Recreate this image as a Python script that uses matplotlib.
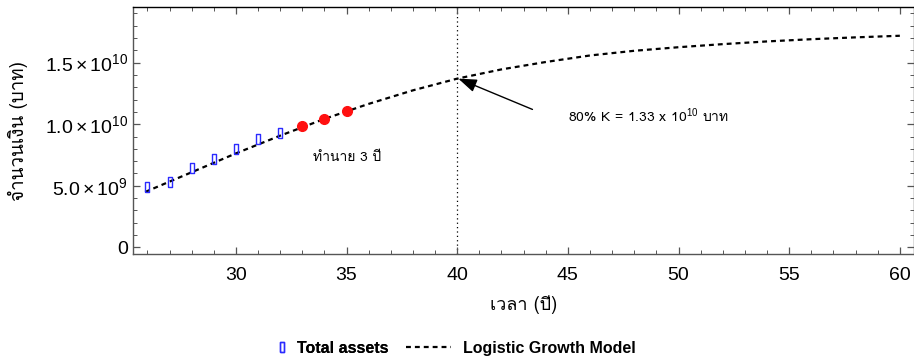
import matplotlib
matplotlib.use("Agg")
import matplotlib.pyplot as plt
from matplotlib import font_manager
from matplotlib.ft2font import FT2Font
from matplotlib.ticker import MultipleLocator, FixedLocator


# observed total assets (years 26-32) and 3-year prediction (33-35)
years_obs = [26, 27, 28, 29, 30, 31, 32]
assets_obs = [4.9e9, 5.27e9, 6.44e9, 7.14e9, 7.95e9, 8.76e9, 9.27e9]
years_pred = [33, 34, 35]
assets_pred = [9.89e9, 10.46e9, 11.06e9]

# logistic growth model curve
model_years = [25.9, 28, 30, 32, 34, 36, 38, 40, 42, 44, 46, 48, 50, 52, 54, 56, 58, 60]
model_values = [4.5e9, 6.1e9, 7.63e9, 9.07e9, 10.43e9, 11.65e9, 12.75e9, 13.7e9, 14.45e9,
                15.05e9, 15.58e9, 15.96e9, 16.25e9, 16.5e9, 16.72e9, 16.9e9, 17.05e9, 17.18e9]

x_ticks = [30, 35, 40, 45, 50, 55, 60]
y_ticks = [0, 5e9, 1e10, 1.5e10]
y_tick_labels = ["0", r"$5.0\times10^{9}$", r"$1.0\times10^{10}$", r"$1.5\times10^{10}$"]
k_year = 40


def find_thai_font():
    """Pick the first installed font that has Thai glyphs"""
    for f in font_manager.fontManager.ttflist:
        try:
            if 0x0E01 in FT2Font(f.fname).get_charmap():
                return f.name
        except Exception:
            pass
    return "DejaVu Sans"


thai = [find_thai_font(), "DejaVu Sans"]

plt.rcParams["font.family"] = ["Liberation Sans", "DejaVu Sans"]
plt.rcParams["mathtext.fontset"] = "custom"
plt.rcParams["mathtext.rm"] = "Liberation Sans"
plt.rcParams["mathtext.it"] = "Liberation Sans"

fig = plt.figure(figsize=(9.14, 3.59), dpi=100)
ax = fig.add_axes([0.1455, 0.292, 0.8545, 0.688])

model_line, = ax.plot(model_years, model_values, color="black", lw=1.6, dashes=(2.2, 1.8),
                      zorder=2, label="Logistic Growth Model")
rect = [(-0.5, -1), (0.5, -1), (0.5, 1), (-0.5, 1), (-0.5, -1)]
obs_line, = ax.plot(years_obs, assets_obs, ls="none", marker=rect, markersize=7,
                    markerfacecolor="none", markeredgecolor="#2b2bff", markeredgewidth=1.0,
                    zorder=3, label="Total assets")
ax.plot(years_pred, assets_pred, ls="none", marker="o", markersize=7,
        color="#ff1010", zorder=4)

ax.axvline(k_year, color="black", lw=0.9, ls=(0, (1, 2.5)), zorder=1)

ax.annotate("", xy=(40.05, 13.7e9), xytext=(43.4, 11.2e9),
            arrowprops=dict(arrowstyle="-|>,head_length=0.7,head_width=0.25", color="black",
                            lw=1.0, mutation_scale=16, shrinkA=0, shrinkB=0))
ax.text(45.0, 10.7e9, "80% K = 1.33 x 10$^{10}$ บาท", family=thai, fontsize=10,
        va="center", ha="left")
ax.text(33.5, 7.3e9, "ทำนาย 3 ปี", family=thai, fontsize=10, va="center", ha="left")

ax.set_xlim(25.35, 60.64)
ax.set_ylim(-0.55e9, 19.5e9)
ax.xaxis.set_major_locator(FixedLocator(x_ticks))
ax.xaxis.set_minor_locator(MultipleLocator(1))
ax.yaxis.set_major_locator(FixedLocator(y_ticks))
ax.set_yticklabels(y_tick_labels)
ax.yaxis.set_minor_locator(MultipleLocator(1e9))
ax.tick_params(which="both", direction="in", top=True, right=True, colors="#555555",
               labelcolor="black", labelsize=14)
ax.tick_params(axis="x", pad=9)
ax.tick_params(which="major", length=5, width=0.9)
ax.tick_params(which="minor", length=3, width=0.7)
for side in ax.spines:
    ax.spines[side].set_color("#555555")
    ax.spines[side].set_linewidth(1.0)
ax.spines["top"].set_color("black")

ax.set_xlabel("เวลา (ปี)", family=thai, fontsize=13, labelpad=8)
ax.set_ylabel("จำนวนเงิน (บาท)", family=thai, fontsize=13.5, labelpad=12)

# two separate legends so the marker entry can sit close to its text
leg_font = dict(weight="bold", size=11.5)
leg1 = fig.legend([obs_line], ["Total assets"], loc="center left", bbox_to_anchor=(0.2998, 0.03),
                  frameon=False, prop=leg_font, handlelength=1.0, handletextpad=0.45,
                  borderpad=0, borderaxespad=0)
fig.legend([model_line], ["Logistic Growth Model"], loc="center left",
           bbox_to_anchor=(0.444, 0.03), frameon=False, prop=leg_font, handlelength=2.8,
           handletextpad=0.75, borderpad=0, borderaxespad=0)
fig.add_artist(leg1)

fig.savefig("out.png", dpi=100)
